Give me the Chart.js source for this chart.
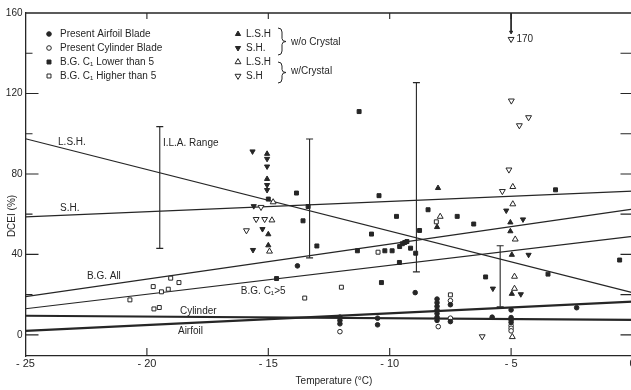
<!DOCTYPE html>
<html>
<head>
<meta charset="utf-8">
<script src="https://cdn.jsdelivr.net/npm/chart.js@4.4.0/dist/chart.umd.min.js"></script>
<style>
  html, body { margin: 0; padding: 0; background: #fff; overflow: hidden; }
  #wrap { width: 640px; height: 390px; }
</style>
</head>
<body>
<div id="wrap"><canvas id="dceiChart" width="640" height="390"></canvas></div>
<script>
const xTicks = [-25, -20, -15, -10, -5, 0];
const yTicks = [0, 40, 80, 120, 160];

// [temperature (C), DCEI (%)]
const airfoilBlade = [[-13.8, 34.3], [-8.95, 21], [-12.05, 8.8], [-12.05, 7.2], [-12.05, 5.5],
  [-10.5, 8.3], [-10.5, 5], [-8.05, 17.8], [-8.05, 16], [-8.05, 14.2], [-8.05, 12.4], [-8.05, 10.6],
  [-8.05, 8.8], [-8.05, 7.2], [-7.5, 15], [-7.5, 6.6], [-5.78, 8.8], [-5.0, 12.4], [-5.0, 8.6],
  [-5.0, 7.4], [-5.0, 6.2], [-2.3, 13.5]];
const cylinderBlade = [[-12.05, 1.6], [-8.0, 4.1], [-7.5, 17], [-7.5, 8.3], [-5.0, 4.6], [-5.0, 3.3], [-5.0, 2.0]];
const bgLow = [[-15.0, 67.5], [-13.84, 70.5], [-13.36, 63.8], [-13.57, 56.7], [-13.0, 44.2], [-14.66, 28],
  [-11.26, 111], [-10.44, 69.2], [-8.42, 62.2], [-9.72, 58.9], [-10.75, 50.1], [-8.77, 51.9],
  [-9.59, 43.9], [-9.48, 45.3], [-9.38, 45.9], [-9.29, 46.4], [-9.14, 43.1], [-8.93, 40.6],
  [-11.33, 41.8], [-10.2, 41.8], [-9.9, 41.8], [-9.6, 36], [-10.34, 26], [-7.22, 58.9],
  [-6.54, 55.1], [-6.05, 28.8], [-3.48, 30.2], [-3.17, 72.1], [-0.53, 37.2]];
const bgHigh = [[-20.7, 17.4], [-19.74, 24], [-19.4, 21.4], [-19.12, 22.7], [-19.02, 28.2], [-18.68, 26],
  [-19.71, 12.9], [-19.49, 13.6], [-13.5, 18.3], [-11.99, 23.7], [-10.48, 41.1], [-8.08, 56.2], [-7.5, 19.9]];
const lshNoCrystal = [[-15.05, 90], [-15.05, 77.5], [-15.0, 50], [-15.0, 44.5], [-8.01, 73], [-8.05, 53.6],
  [-5.03, 55.9], [-5.03, 51.5], [-4.97, 39.8], [-4.97, 20.4]];
const shNoCrystal = [[-15.65, 91.2], [-15.05, 87.5], [-15.05, 83.7], [-15.05, 74.5], [-15.05, 72],
  [-15.6, 64], [-15.24, 52.6], [-15.63, 42.2], [-5.2, 61.8], [-4.51, 57.4], [-4.28, 39.8], [-5.75, 23], [-4.6, 20.2]];
const lshCrystal = [[-14.8, 66], [-14.85, 57], [-14.95, 41.5], [-7.92, 58.8], [-4.93, 73.6], [-4.93, 65],
  [-4.83, 47.5], [-4.86, 29], [-4.86, 23], [-4.95, -1]];
const shCrystal = [[-15.3, 63.5], [-15.5, 57.5], [-15.15, 57.5], [-15.9, 51.9], [-4.99, 116.4], [-4.28, 108.1],
  [-4.66, 104.1], [-5.09, 82.1], [-5.36, 71.4], [-6.19, -0.8], [-5.0, 147]];

// fitted lines, value at -25 and at 0
const fitEnds = [-25, 0];
const fitLSH = [97.5, 21];
const fitSH = [58.7, 71.5];
const fitBGAll = [19, 62.5];
const fitBGC5 = [13, 49];
const fitCylinder = [9.5, 7.5];
const fitAirfoil = [2, 16.5];

// I.L.A. range bars
const ilaTemps = [-19.47, -13.3, -8.9, -5.45];
const ilaLow = [43, 38.3, 31.3, 14];
const ilaHigh = [103.5, 97.4, 125.4, 44.3];

const ink = '#262626';
const font = '"Liberation Sans", Arial, sans-serif';

const toXY = arr => arr.map(p => ({x: p[0], y: p[1]}));
const fitLine = vals => fitEnds.map((t, i) => ({x: t, y: vals[i]}));

function markers(data, style, filled, radius, rotation) {
  return {
    data: toXY(data),
    pointStyle: style,
    pointRadius: radius,
    pointRotation: rotation || 0,
    backgroundColor: filled ? ink : '#fff',
    borderColor: ink,
    borderWidth: 1,
    order: 0
  };
}

function line(vals, width) {
  return {
    type: 'line', data: fitLine(vals), borderColor: ink, borderWidth: width,
    pointRadius: 0, fill: false, order: 2
  };
}

const datasets = [
  markers(airfoilBlade, 'circle', true, 2.3),
  markers(cylinderBlade, 'circle', false, 2.3),
  markers(bgLow, 'rect', true, 2.8),
  markers(bgHigh, 'rect', false, 2.8),
  markers(lshNoCrystal, 'triangle', true, 3),
  markers(shNoCrystal, 'triangle', true, 3, 180),
  markers(lshCrystal, 'triangle', false, 3.4),
  markers(shCrystal, 'triangle', false, 3.4, 180),
  line(fitLSH, 1.2), line(fitSH, 1.2), line(fitBGAll, 1.2), line(fitBGC5, 1.2),
  line(fitCylinder, 2.2), line(fitAirfoil, 2.2)
];

ilaTemps.forEach((t, i) => {
  datasets.push({
    type: 'scatter', showLine: true,
    data: [{x: t, y: ilaLow[i]}, {x: t, y: ilaHigh[i]}],
    borderColor: ink, borderWidth: 1.1,
    pointStyle: 'line', pointRadius: 3.5, pointBorderWidth: 1.1, pointBorderColor: ink,
    order: 1
  });
});

// arrow for the off-scale 170 point
datasets.push({
  type: 'scatter', showLine: true,
  data: [{x: -5, y: 160}, {x: -5, y: 150.5}],
  borderColor: ink, borderWidth: 1,
  pointStyle: 'triangle', pointRotation: 180, pointRadius: [0, 1.8],
  backgroundColor: ink, pointBorderColor: ink, order: 1
});

const chartLabels = [
  {text: 'L.S.H.', x: -23.66, y: 96},
  {text: 'S.H.', x: -23.58, y: 62.7},
  {text: 'I.L.A. Range', x: -19.34, y: 95.5},
  {text: 'B.G. All', x: -22.47, y: 28.9},
  {text: 'B.G. C\u2081>5', x: -16.13, y: 21.9},
  {text: 'Cylinder', x: -18.64, y: 11.9},
  {text: 'Airfoil', x: -18.72, y: 2},
  {text: '170', x: -4.78, y: 147}
];

const legendLeft = [
  {text: 'Present Airfoil Blade', style: 'circle', filled: true, r: 2.3},
  {text: 'Present Cylinder Blade', style: 'circle', filled: false, r: 2.3},
  {text: 'B.G. C\u2081 Lower than 5', style: 'rect', filled: true, r: 2.8},
  {text: 'B.G. C\u2081 Higher than 5', style: 'rect', filled: false, r: 2.8}
];
const legendRight = [
  {text: 'L.S.H', style: 'triangle', filled: true, r: 3, rot: 0},
  {text: 'S.H.', style: 'triangle', filled: true, r: 3, rot: 180},
  {text: 'L.S.H', style: 'triangle', filled: false, r: 3.4, rot: 0},
  {text: 'S.H', style: 'triangle', filled: false, r: 3.4, rot: 180}
];

function brace(ctx, x, y0, y1) {
  const mid = (y0 + y1) / 2;
  ctx.beginPath();
  ctx.moveTo(x, y0);
  ctx.quadraticCurveTo(x + 4, y0, x + 4, y0 + 4);
  ctx.lineTo(x + 4, mid - 3);
  ctx.quadraticCurveTo(x + 4, mid, x + 8, mid);
  ctx.quadraticCurveTo(x + 4, mid, x + 4, mid + 3);
  ctx.lineTo(x + 4, y1 - 4);
  ctx.quadraticCurveTo(x + 4, y1, x, y1);
  ctx.stroke();
}

const decorations = {
  id: 'decorations',
  afterDraw(chart) {
    const {ctx, chartArea: a, scales: {x, y}} = chart;
    ctx.save();
    ctx.strokeStyle = ink;
    ctx.fillStyle = ink;

    // top and right frame
    ctx.lineWidth = 1.3;
    ctx.beginPath();
    ctx.moveTo(a.left, a.top); ctx.lineTo(a.right, a.top); ctx.lineTo(a.right, a.bottom);
    ctx.stroke();

    // inner ticks
    ctx.lineWidth = 1.1;
    ctx.beginPath();
    [-20, -15, -10, -5].forEach(t => {
      const px = x.getPixelForValue(t);
      ctx.moveTo(px, a.top); ctx.lineTo(px, a.top + 6);
      ctx.moveTo(px, a.bottom); ctx.lineTo(px, a.bottom - 8);
    });
    for (let v = 0; v < 160; v += 20) {
      const py = y.getPixelForValue(v);
      ctx.moveTo(a.left, py); ctx.lineTo(a.left + (v % 40 === 0 ? 13 : 7), py);
      ctx.moveTo(a.right, py); ctx.lineTo(a.right - 12, py);
    }
    ctx.stroke();

    // labels inside the plot
    ctx.font = '10px ' + font;
    ctx.textBaseline = 'middle';
    ctx.textAlign = 'left';
    chartLabels.forEach(l => ctx.fillText(l.text, x.getPixelForValue(l.x), y.getPixelForValue(l.y)));

    // legend
    const rows = [34, 48, 62, 76];
    ctx.lineWidth = 1;
    legendLeft.forEach((it, i) => {
      ctx.fillStyle = it.filled ? ink : '#fff';
      Chart.helpers.drawPoint(ctx, {pointStyle: it.style, radius: it.r, rotation: 0, borderWidth: 1}, 49, rows[i]);
      ctx.fillStyle = ink;
      ctx.fillText(it.text, 60, rows[i]);
    });
    legendRight.forEach((it, i) => {
      ctx.fillStyle = it.filled ? ink : '#fff';
      Chart.helpers.drawPoint(ctx, {pointStyle: it.style, radius: it.r, rotation: it.rot, borderWidth: 1}, 238, rows[i]);
      ctx.fillStyle = ink;
      ctx.fillText(it.text, 246, rows[i]);
    });
    brace(ctx, 278, 28, 55);
    brace(ctx, 278, 62, 83);
    ctx.fillText('w/o Crystal', 291, 42);
    ctx.fillText('w/Crystal', 291, 71);

    // axis titles
    ctx.textAlign = 'center';
    ctx.fillText('Temperature (\u00B0C)', 334, 381);
    ctx.translate(12, 216);
    ctx.rotate(-Math.PI / 2);
    ctx.fillText('DCEI (%)', 0, 0);
    ctx.restore();
  }
};

new Chart(document.getElementById('dceiChart'), {
  type: 'scatter',
  data: {datasets: datasets},
  options: {
    responsive: false,
    animation: false,
    devicePixelRatio: 1,
    layout: {padding: {top: 13, right: 7.5, left: 0, bottom: 0}},
    plugins: {legend: {display: false}, tooltip: {enabled: false}},
    scales: {
      x: {
        type: 'linear', min: -25, max: 0,
        grid: {display: false, drawTicks: false},
        border: {display: true, color: ink, width: 1.3},
        afterBuildTicks: s => { s.ticks = xTicks.map(v => ({value: v})); },
        afterFit: s => { s.height = 34; },
        ticks: {
          color: ink, font: {family: font, size: 11}, padding: 1, maxRotation: 0,
          callback: v => v < 0 ? '- ' + Math.abs(v) : String(v)
        }
      },
      y: {
        type: 'linear', min: -10.5, max: 160,
        grid: {display: false, drawTicks: false},
        border: {display: true, color: ink, width: 1.3},
        afterBuildTicks: s => { s.ticks = yTicks.map(v => ({value: v})); },
        afterFit: s => { s.width = 25.5; },
        ticks: {color: ink, font: {family: font, size: 10}, padding: 3}
      }
    }
  },
  plugins: [decorations]
});
</script>
</body>
</html>
